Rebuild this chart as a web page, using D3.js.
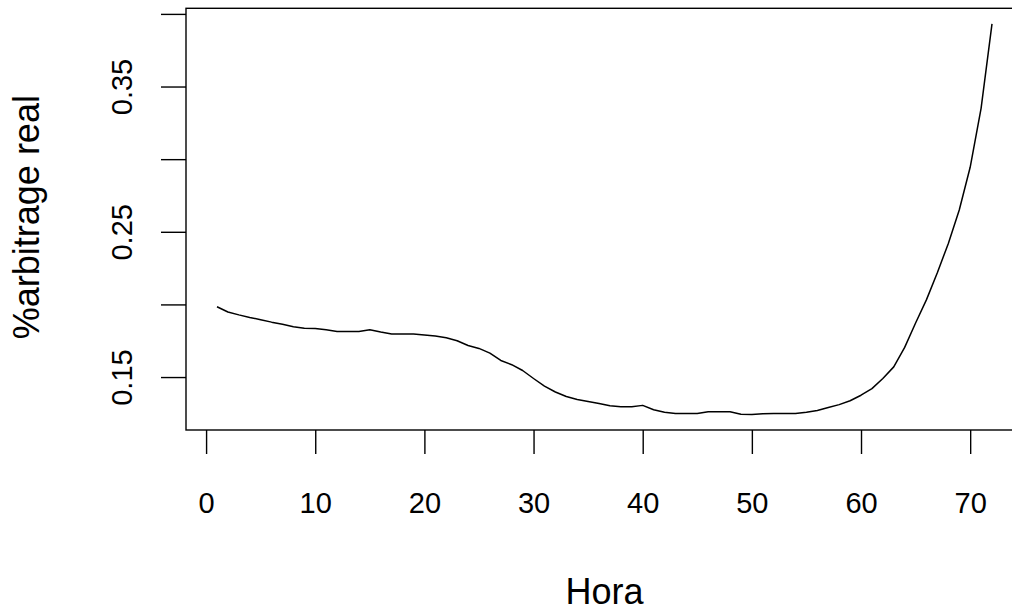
<!DOCTYPE html>
<html>
<head>
<meta charset="utf-8">
<script src="https://cdn.jsdelivr.net/npm/d3@7"></script>
<style>
  html, body { margin: 0; padding: 0; background: #fff; overflow: hidden; }
  svg { display: block; }
  text { font-family: "Liberation Sans", Arial, sans-serif; fill: #000; }
</style>
</head>
<body>
<svg id="chart" width="1012" height="610"></svg>
<script>
// ---- Data ----
const hours = d3.range(1, 73); // 1..72 (categorical hour index)
const arbitrage = [
  0.1984, 0.1948, 0.1928, 0.1910, 0.1895, 0.1878, 0.1863, 0.1847, 0.1836, 0.1835,
  0.1825, 0.1814, 0.1814, 0.1814, 0.1825, 0.1810, 0.1797, 0.1796, 0.1796, 0.1790,
  0.1782, 0.1770, 0.1750, 0.1717, 0.1697, 0.1665, 0.1614, 0.1585, 0.1545, 0.1490,
  0.1438, 0.1397, 0.1366, 0.1345, 0.1332, 0.1318, 0.1302, 0.1295, 0.1295, 0.1305,
  0.1275, 0.1258, 0.1249, 0.1249, 0.1249, 0.1261, 0.1261, 0.1261, 0.1244, 0.1243,
  0.1247, 0.1249, 0.1249, 0.1249, 0.1257, 0.1270, 0.1290, 0.1310, 0.1337, 0.1375,
  0.1420, 0.1490, 0.1570, 0.1704, 0.1872, 0.2033, 0.2220, 0.2420, 0.2650, 0.2944,
  0.3350, 0.3931
];
const xTicks = [0, 10, 20, 30, 40, 50, 60, 70];
const yTicks = [0.15, 0.20, 0.25, 0.30, 0.35, 0.40];
const yTickLabels = ["0.15", "", "0.25", "", "0.35", ""];
const xTitle = "Hora";
const yTitle = "%arbitrage real";

// ---- Layout ----
const box = { left: 186, right: 1023, top: 8.3, bottom: 430 };
const svg = d3.select("#chart");

// R-style 4% padding of the data range
function padded(ext) {
  const d = (ext[1] - ext[0]) * 0.04;
  return [ext[0] - d, ext[1] + d];
}
const x = d3.scaleLinear().domain(padded(d3.extent(hours))).range([box.left, box.right]);
const y = d3.scaleLinear().domain(padded(d3.extent(arbitrage))).range([box.bottom, box.top]);

// ---- Line ----
const data = hours.map((h, i) => ({ h, v: arbitrage[i] }));
svg.append("path")
  .datum(data)
  .attr("fill", "none")
  .attr("stroke", "#000")
  .attr("stroke-width", 1.5)
  .attr("stroke-linejoin", "round")
  .attr("d", d3.line().x(d => x(d.h)).y(d => y(d.v)));

// ---- Box ----
svg.append("rect")
  .attr("x", box.left).attr("y", box.top)
  .attr("width", box.right - box.left).attr("height", box.bottom - box.top)
  .attr("fill", "none").attr("stroke", "#000").attr("stroke-width", 1.4);

// ---- X axis ----
const gx = svg.append("g")
  .attr("transform", `translate(0,${box.bottom})`)
  .call(d3.axisBottom(x).tickValues(xTicks).tickSize(24).tickPadding(0).tickFormat(d3.format("d")));
gx.select(".domain").remove();
gx.selectAll(".tick line").attr("stroke", "#000").attr("stroke-width", 1.4);
gx.selectAll(".tick text")
  .attr("y", 0).attr("dy", null)
  .attr("transform", "translate(0,82.5)")
  .style("font-size", "29px")
  .style("font-family", "'Liberation Sans', Arial, sans-serif")
  .attr("fill", "#000");

// ---- Y axis ----
const gy = svg.append("g")
  .attr("transform", `translate(${box.left},0)`)
  .call(d3.axisLeft(y).tickValues(yTicks).tickSize(25).tickPadding(0)
    .tickFormat((d, i) => yTickLabels[i]));
gy.select(".domain").remove();
gy.selectAll(".tick line").attr("stroke", "#000").attr("stroke-width", 1.4);
gy.selectAll(".tick text")
  .attr("x", 0).attr("dy", null)
  .attr("text-anchor", "middle")
  .attr("transform", "translate(-54,0) rotate(-90)")
  .style("font-size", "29px")
  .style("font-family", "'Liberation Sans', Arial, sans-serif")
  .attr("fill", "#000");

// ---- Titles ----
svg.append("text")
  .attr("x", (box.left + box.right) / 2)
  .attr("y", 604)
  .attr("text-anchor", "middle")
  .style("font-size", "36px")
  .text(xTitle);

const yc = (box.top + box.bottom) / 2 - 2;
svg.append("text")
  .attr("transform", `translate(39,${yc}) rotate(-90)`)
  .attr("text-anchor", "middle")
  .style("font-size", "36px")
  .text(yTitle);
</script>
</body>
</html>
